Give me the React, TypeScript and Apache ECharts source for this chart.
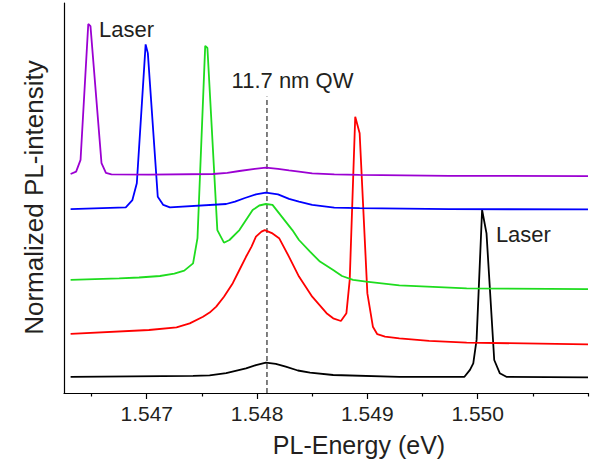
import React, { useEffect, useRef } from "react";
import * as echarts from "echarts";

// Energies (eV) and normalized intensities (arbitrary units, offsets included)
const purpleE = [1.54631, 1.54636, 1.5464, 1.54647, 1.54649, 1.54659, 1.54663, 1.54668, 1.54702, 1.5476, 1.54773, 1.54784, 1.54798, 1.54808, 1.54819, 1.54829, 1.54838, 1.5485, 1.5487, 1.54893, 1.54974, 1.551];
const purpleI = [73.0, 73.8, 77.7, 123.0, 122.3, 76.6, 73.4, 72.9, 72.8, 73.0, 73.4, 74.0, 74.7, 75.1, 74.7, 74.2, 73.8, 73.2, 72.9, 72.7, 72.4, 72.3];

const blueE = [1.54631, 1.54681, 1.54687, 1.54691, 1.54699, 1.54701, 1.5471, 1.54715, 1.54721, 1.54772, 1.5478, 1.54789, 1.54799, 1.54808, 1.54819, 1.54829, 1.54838, 1.5485, 1.5487, 1.54893, 1.54974, 1.551];
const blueI = [61.3, 61.9, 64.3, 69.9, 116.2, 113.3, 65.4, 62.7, 61.9, 63.0, 63.8, 65.0, 66.2, 66.8, 66.2, 64.7, 63.8, 62.7, 61.8, 61.6, 61.3, 61.2];

const greenE = [1.54631, 1.54675, 1.54693, 1.54712, 1.54725, 1.54734, 1.54742, 1.54746, 1.54753, 1.54755, 1.54764, 1.5477, 1.54775, 1.54784, 1.54796, 1.54802, 1.54808, 1.54814, 1.54832, 1.54838, 1.54848, 1.54857, 1.54869, 1.54877, 1.54887, 1.54899, 1.54929, 1.5499, 1.551];
const greenI = [37.7, 38.2, 38.5, 39.0, 39.8, 40.8, 43.2, 51.6, 115.7, 115.0, 54.3, 50.1, 51.0, 54.3, 61.0, 62.5, 63.0, 62.7, 54.3, 51.0, 47.1, 43.8, 41.0, 39.0, 37.7, 37.1, 35.9, 34.9, 34.6];

const redE = [1.54631, 1.54702, 1.54727, 1.54739, 1.54751, 1.54757, 1.54763, 1.5477, 1.54778, 1.54784, 1.5479, 1.54795, 1.54799, 1.54804, 1.54807, 1.54814, 1.5482, 1.54829, 1.54838, 1.5485, 1.54863, 1.54869, 1.54876, 1.54881, 1.54884, 1.54889, 1.54893, 1.549, 1.54905, 1.54909, 1.54916, 1.54929, 1.54956, 1.5499, 1.551];
const redI = [19.7, 21.0, 21.9, 23.2, 25.4, 26.8, 28.8, 32.1, 36.6, 41.0, 45.4, 48.8, 52.1, 53.8, 54.3, 53.2, 51.6, 45.4, 38.8, 32.1, 26.6, 24.9, 24.0, 26.6, 37.7, 92.1, 86.6, 33.2, 22.1, 19.6, 18.8, 18.2, 17.4, 16.8, 16.2];

const blackE = [1.54631, 1.54742, 1.54757, 1.54772, 1.5479, 1.54799, 1.54808, 1.54817, 1.54826, 1.54837, 1.54848, 1.54869, 1.54929, 1.54988, 1.54993, 1.54996, 1.54999, 1.55004, 1.55008, 1.55015, 1.5502, 1.55026, 1.551];
const blackI = [5.4, 5.7, 5.9, 6.6, 8.2, 9.3, 10.1, 9.7, 8.8, 7.5, 6.8, 6.0, 5.4, 5.4, 7.7, 9.9, 17.7, 61.0, 53.2, 11.0, 6.6, 5.4, 5.2];

const qwEnergy = 1.54809;
const qwLineTop = 98.8;

const majorTicks = [1.547, 1.548, 1.549, 1.55];
const minorTicks = [1.5465, 1.5475, 1.5485, 1.5495, 1.5505, 1.551];

const xMin = 1.54625;
const xMax = 1.551;
const yMin = 0;
const yMax = 130;

const zip = (xs: number[], ys: number[]) => xs.map((x, i) => [x, ys[i]]);

const FONT = "Liberation Sans, Arial, Helvetica, sans-serif";
const TEXT = "#231f20";

export default function App() {
  const ref = useRef<HTMLDivElement>(null);
  useEffect(() => {
    if (!ref.current) return;
    const chart = echarts.init(ref.current, null, { renderer: "svg" });
    const line = (name: string, xs: number[], ys: number[], color: string) => ({
      name,
      type: "line",
      data: zip(xs, ys),
      showSymbol: false,
      symbol: "none",
      lineStyle: { color, width: 1.8 },
      xAxisIndex: 0,
      yAxisIndex: 0,
      z: 3,
    });
    chart.setOption({
      animation: false,
      grid: { left: 64, right: 5, top: 3, bottom: 72, containLabel: false },
      xAxis: [
        {
          type: "value",
          min: xMin,
          max: xMax,
          axisLine: { show: true, lineStyle: { color: "#000", width: 1.2 } },
          axisTick: { show: true, customValues: majorTicks, length: 6, lineStyle: { color: "#000", width: 1.2 } },
          axisLabel: {
            show: true,
            customValues: majorTicks,
            formatter: (v: number) => v.toFixed(3),
            fontFamily: FONT,
            fontSize: 21,
            color: TEXT,
            margin: 10,
          },
          splitLine: { show: false },
        },
        {
          type: "value",
          min: xMin,
          max: xMax,
          position: "bottom",
          axisLine: { show: false },
          axisTick: { show: true, customValues: minorTicks, length: 3.5, lineStyle: { color: "#000", width: 1.2 } },
          axisLabel: { show: false },
          splitLine: { show: false },
        },
      ],
      yAxis: {
        type: "value",
        min: yMin,
        max: yMax,
        axisLine: { show: true, lineStyle: { color: "#000", width: 1.2 } },
        axisTick: { show: false },
        axisLabel: { show: false },
        splitLine: { show: false },
      },
      series: [
        {
          name: "qw",
          type: "line",
          data: [
            [qwEnergy, yMin],
            [qwEnergy, qwLineTop],
          ],
          showSymbol: false,
          symbol: "none",
          lineStyle: { color: "#000", width: 1, type: [5, 3] },
          z: 2,
        },
        line("black", blackE, blackI, "#000000"),
        line("red", redE, redI, "#ff0000"),
        line("green", greenE, greenI, "#1edc1e"),
        line("blue", blueE, blueI, "#0000ff"),
        line("purple", purpleE, purpleI, "#9b00d2"),
      ],
      graphic: [
        {
          type: "text",
          x: 126.5,
          y: 29.5,
          style: { text: "Laser", fontFamily: FONT, fontSize: 22, fill: TEXT, align: "center", verticalAlign: "middle" },
        },
        {
          type: "text",
          x: 292.5,
          y: 80,
          style: { text: "11.7 nm QW", fontFamily: FONT, fontSize: 22, fill: TEXT, align: "center", verticalAlign: "middle" },
        },
        {
          type: "text",
          x: 523.4,
          y: 234.7,
          style: { text: "Laser", fontFamily: FONT, fontSize: 22, fill: TEXT, align: "center", verticalAlign: "middle" },
        },
        {
          type: "text",
          x: 359,
          y: 445.4,
          style: { text: "PL-Energy (eV)", fontFamily: FONT, fontSize: 25, fill: TEXT, align: "center", verticalAlign: "middle" },
        },
        {
          type: "text",
          x: 33.5,
          y: 197.5,
          rotation: Math.PI / 2,
          style: { text: "Normalized PL-intensity", fontFamily: FONT, fontSize: 26, fill: TEXT, align: "center", verticalAlign: "middle" },
        },
      ],
    });
    return () => chart.dispose();
  }, []);
  return <div ref={ref} style={{ position: "absolute", left: 0, top: 0, width: 593, height: 465 }} />;
}
